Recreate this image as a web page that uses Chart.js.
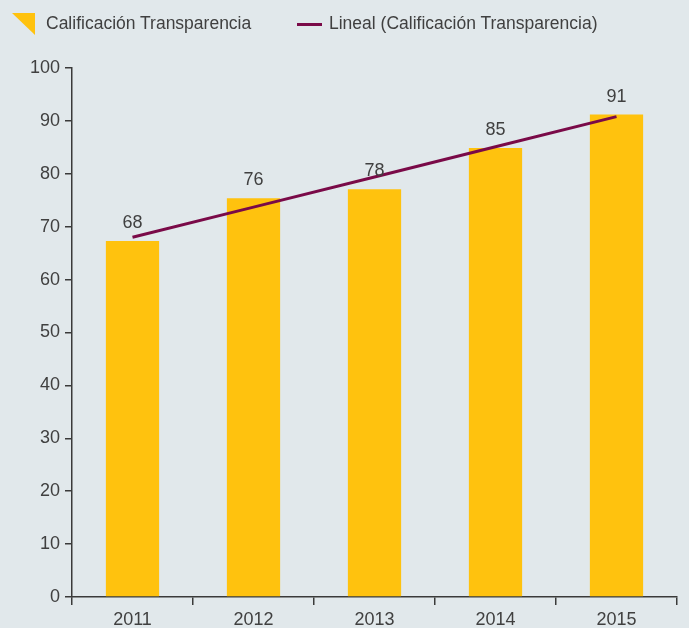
<!DOCTYPE html>
<html>
<head>
<meta charset="utf-8">
<script src="https://cdn.jsdelivr.net/npm/chart.js@4/dist/chart.umd.min.js"></script>
<style>
  html, body { margin: 0; padding: 0; background: #E1E8EB; }
  #wrap { position: relative; width: 689px; height: 628px; background: #E1E8EB; overflow: hidden; }
  #c { position: absolute; left: 0; top: 0; }
  .leg { position: absolute; font-family: "Liberation Sans", Arial, sans-serif; font-size: 17.5px; color: #404040; white-space: nowrap; line-height: 20px; }
</style>
</head>
<body>
<div id="wrap">
  <canvas id="c" width="689" height="628"></canvas>
  <svg style="position:absolute;left:12px;top:13px" width="23" height="22"><polygon points="0,0 23,0 23,22" fill="#FFC20E"/></svg>
  <div class="leg" style="left:46px;top:13px">Calificación Transparencia</div>
  <div style="position:absolute;left:297px;top:23px;width:25px;height:3px;background:#7A0A48"></div>
  <div class="leg" style="left:329px;top:13px">Lineal (Calificación Transparencia)</div>
</div>
<script>
const categories = ["2011", "2012", "2013", "2014", "2015"];
const barValues = [67.3, 75.4, 77.1, 84.9, 91.2];
const barLabels = ["68", "76", "78", "85", "91"];
const trendValues = [68.0, 73.7, 79.4, 85.1, 90.8];
const yTicks = [0, 10, 20, 30, 40, 50, 60, 70, 80, 90, 100];

const textColor = "#404040";
const axisColor = "#3a3a3a";
const fontFamily = "'Liberation Sans', Arial, sans-serif";

const barLabelPlugin = {
  id: "barLabelPlugin",
  afterDatasetsDraw(chart) {
    const ctx = chart.ctx;
    const meta = chart.getDatasetMeta(1);
    ctx.save();
    ctx.font = "18px " + fontFamily;
    ctx.fillStyle = textColor;
    ctx.textAlign = "center";
    ctx.textBaseline = "middle";
    meta.data.forEach((bar, i) => {
      ctx.fillText(barLabels[i], bar.x, bar.y - 18);
    });
    ctx.restore();
  }
};

new Chart(document.getElementById("c"), {
  type: "bar",
  data: {
    labels: categories,
    datasets: [
      {
        type: "line",
        label: "Lineal (Calificación Transparencia)",
        data: trendValues,
        borderColor: "#7A0A48",
        borderWidth: 3,
        pointRadius: 0,
        tension: 0,
        fill: false,
        order: 0
      },
      {
        type: "bar",
        label: "Calificación Transparencia",
        data: barValues,
        backgroundColor: "#FFC20E",
        barPercentage: 0.88,
        categoryPercentage: 0.5,
        order: 1
      }
    ]
  },
  options: {
    responsive: false,
    animation: false,
    devicePixelRatio: 1,
    layout: { padding: { top: 68, right: 12, left: 0, bottom: 0 } },
    plugins: { legend: { display: false }, tooltip: { enabled: false } },
    scales: {
      x: {
        offset: true,
        grid: { display: true, drawOnChartArea: false, drawTicks: true, tickLength: 8, color: axisColor, lineWidth: 1.5, offset: true },
        border: { display: true, color: axisColor, width: 1.5 },
        ticks: { color: textColor, font: { family: fontFamily, size: 18 }, padding: 4 },
        afterFit(s) { s.height = 31; }
      },
      y: {
        min: 0,
        max: 100,
        afterBuildTicks(s) { s.ticks = yTicks.map(v => ({ value: v })); },
        grid: { display: true, drawOnChartArea: false, drawTicks: true, tickLength: 7, color: axisColor, lineWidth: 1.5 },
        border: { display: true, color: axisColor, width: 1.5 },
        ticks: { color: textColor, font: { family: fontFamily, size: 18 }, padding: 5 },
        afterFit(s) { s.width = 72; }
      }
    }
  },
  plugins: [barLabelPlugin]
});
</script>
</body>
</html>
